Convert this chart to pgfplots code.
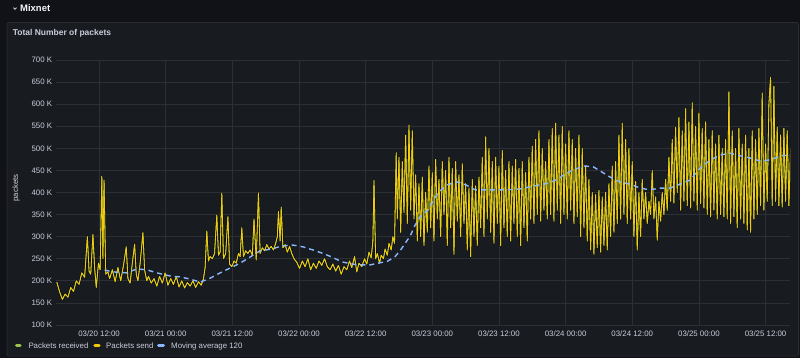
\documentclass[border=0pt]{standalone}
\usepackage{fontspec}
\setmainfont{Liberation Sans}
\usepackage{pgfplots}
\pgfplotsset{compat=1.18}
\usepackage{pgfplotstable}
\definecolor{canvas}{HTML}{111217}
\definecolor{panel}{HTML}{181B1F}
\definecolor{pborder}{HTML}{2A2D33}
\definecolor{gridc}{HTML}{2C2F35}
\definecolor{txt}{HTML}{CCCCDC}
\definecolor{sendc}{HTML}{F2CC0C}
\definecolor{recvc}{HTML}{9AC04F}
\definecolor{mac}{HTML}{8AB8FF}
\definecolor{halo}{HTML}{0B0C0E}

% Packets send (hours since 03/20 00:00, thousands of packets)
\pgfplotstableread[row sep=\\]{
h v\\
4.4 197\\4.9 175\\5.4 158\\5.9 170\\6.4 163\\6.9 185\\7.4 176\\7.9 200\\8.4 192\\8.9 218\\9.4 208\\9.9 300\\10.2 222\\10.5 215\\10.9 305\\11.2 230\\11.5 185\\11.9 240\\12.2 225\\12.5 437\\12.7 250\\12.9 428\\13.2 215\\13.6 220\\13.9 205\\14.4 225\\14.9 198\\15.4 230\\15.9 200\\16.4 235\\16.9 277\\17.2 205\\17.6 195\\17.9 230\\18.4 283\\18.7 215\\19.0 200\\19.4 240\\19.9 309\\20.2 225\\20.6 200\\20.9 210\\21.4 195\\21.9 205\\22.4 188\\22.9 210\\23.4 195\\23.9 218\\24.4 190\\24.9 205\\25.4 192\\25.9 210\\26.4 186\\26.9 200\\27.4 184\\27.9 196\\28.4 188\\28.9 200\\29.4 185\\29.9 198\\
30.4 190\\30.8 205\\31.1 230\\31.4 313\\31.7 245\\32.0 255\\32.4 250\\32.8 262\\33.2 349\\33.5 258\\33.8 265\\34.1 399\\34.4 250\\34.8 262\\35.2 345\\35.5 238\\35.9 232\\36.3 245\\36.7 240\\37.1 262\\37.4 255\\37.7 320\\38.0 255\\38.4 268\\38.8 262\\39.2 270\\39.6 258\\39.9 340\\40.3 247\\40.7 399\\41.0 262\\41.4 275\\41.8 268\\42.2 282\\42.6 272\\43.0 278\\43.4 270\\43.8 285\\44.1 300\\44.3 357\\44.6 290\\44.8 367\\45.1 275\\45.5 282\\45.9 265\\46.3 278\\46.7 262\\47.1 250\\47.6 242\\48.1 228\\48.6 245\\49.1 232\\49.6 250\\50.1 225\\50.6 240\\51.1 228\\51.6 245\\52.1 235\\52.6 250\\53.1 232\\53.6 225\\54.1 238\\54.6 222\\55.1 235\\55.6 215\\56.1 232\\56.6 225\\57.1 245\\57.5 230\\58.0 255\\58.4 220\\58.8 240\\59.3 232\\59.8 250\\60.2 238\\60.6 265\\61.0 252\\61.3 290\\61.5 427\\61.8 250\\62.1 262\\62.5 240\\62.8 258\\63.2 250\\63.5 272\\63.9 258\\64.2 285\\64.6 270\\64.9 300\\65.2 285\\65.5 490\\65.7 340\\66.0 480\\66.3 310\\66.6 470\\
66.9 355\\67.2 530\\67.5 330\\67.8 553\\68.1 360\\68.4 540\\68.7 340\\69.0 440\\69.3 290\\69.6 420\\69.9 300\\70.2 435\\70.5 280\\70.8 400\\71.1 310\\71.4 460\\71.7 320\\72.0 445\\72.3 290\\72.6 475\\72.9 340\\73.2 430\\73.5 300\\73.8 470\\74.1 350\\74.4 450\\74.7 280\\75.0 480\\75.3 320\\75.6 455\\75.9 260\\76.2 470\\76.5 335\\76.8 440\\77.1 300\\77.4 465\\77.7 330\\78.0 420\\78.3 270\\78.6 410\\78.9 255\\79.2 430\\79.5 300\\79.8 415\\80.1 280\\80.4 435\\80.7 320\\81.0 480\\81.3 300\\81.6 526\\81.9 340\\82.2 500\\82.5 310\\82.8 470\\83.1 285\\83.4 480\\83.7 330\\84.0 460\\84.3 280\\84.6 495\\84.9 320\\85.2 450\\85.5 300\\85.8 470\\86.1 290\\86.4 460\\86.7 330\\87.0 475\\87.3 300\\87.6 455\\87.9 280\\88.2 470\\88.5 320\\88.8 445\\89.1 290\\89.4 480\\89.7 340\\90.0 505\\90.3 330\\90.6 520\\90.9 350\\91.2 540\\91.5 335\\91.8 500\\92.1 360\\92.4 470\\92.7 340\\93.0 520\\93.3 350\\93.6 545\\93.9 335\\94.2 557\\94.5 360\\94.8 530\\95.1 330\\95.4 550\\95.7 350\\96.0 510\\96.3 340\\96.6 540\\96.9 360\\97.2 520\\97.5 330\\97.8 500\\98.1 345\\98.4 530\\98.7 300\\99.0 500\\99.3 320\\99.6 460\\99.9 290\\100.2 430\\100.5 270\\100.8 400\\101.1 260\\101.4 395\\101.7 275\\102.0 405\\102.3 265\\102.6 390\\102.9 280\\103.2 400\\103.5 270\\103.8 420\\104.1 300\\104.4 460\\104.7 310\\105.0 470\\105.3 330\\105.6 530\\105.9 340\\106.2 557\\106.5 350\\106.8 520\\107.1 330\\107.4 500\\107.7 340\\108.0 470\\108.3 300\\108.6 425\\108.9 270\\109.2 400\\109.5 300\\109.8 430\\110.1 340\\110.4 400\\110.7 330\\111.0 380\\111.3 350\\111.6 450\\111.9 340\\112.2 390\\112.5 292\\112.8 380\\113.1 335\\113.4 400\\113.7 350\\114.0 430\\114.3 360\\114.6 480\\114.9 380\\115.2 520\\115.5 376\\115.8 548\\116.1 400\\116.4 570\\116.7 360\\117.0 540\\117.3 380\\117.6 590\\117.9 370\\118.2 560\\118.5 365\\118.8 603\\119.1 380\\119.4 550\\119.7 360\\120.0 580\\120.3 375\\120.6 545\\120.9 365\\121.2 560\\121.5 350\\121.8 520\\122.1 345\\122.4 540\\122.7 360\\123.0 510\\123.3 340\\123.6 530\\123.9 350\\124.2 500\\124.5 345\\124.8 520\\125.1 340\\125.4 628\\125.7 330\\126.0 540\\126.3 345\\126.6 500\\126.9 320\\127.2 545\\127.5 340\\127.8 510\\128.1 330\\128.4 530\\128.7 315\\129.0 500\\129.3 310\\129.6 540\\129.9 340\\130.2 520\\130.5 350\\130.8 545\\131.1 370\\131.4 625\\131.7 360\\132.0 510\\132.3 380\\132.6 600\\132.9 661\\133.2 370\\133.5 640\\133.8 380\\134.1 548\\134.4 370\\134.7 530\\135.0 367\\135.3 545\\135.6 380\\135.9 540\\136.2 370\\136.5 500\\
}\sendtable

% Moving average 120
\pgfplotstableread[row sep=\\]{
h v\\
13.0 224\\14.8 220\\17.0 218\\18.8 227\\20.6 225\\22.4 218\\24.8 211\\26.5 209\\28.4 204\\30.2 197\\32.0 206\\33.8 218\\35.6 229\\37.4 240\\39.2 254\\41.0 268\\43.1 272\\44.9 279\\46.9 281\\48.7 277\\50.5 270\\52.1 263\\53.9 254\\55.7 243\\57.6 238\\59.3 236\\60.8 236\\62.2 240\\63.9 244\\65.3 255\\66.2 268\\67.1 285\\68.0 301\\68.9 326\\69.8 345\\71.2 360\\73.0 399\\74.6 417\\76.4 424\\78.1 417\\79.7 406\\82.4 406\\85.1 406\\87.8 408\\90.5 415\\92.9 421\\94.7 431\\95.9 442\\97.7 453\\99.5 460\\101.0 458\\102.2 449\\104.0 435\\105.8 424\\107.6 419\\109.4 410\\111.2 406\\113.0 410\\114.8 410\\116.6 419\\118.4 428\\120.2 455\\122.1 474\\123.9 485\\125.6 489\\127.5 483\\129.3 478\\131.1 471\\132.9 474\\134.7 483\\136.1 485\\
}\matable

\begin{document}
\begin{tikzpicture}
\useasboundingbox (0,0) rectangle (800bp,358bp);
\fill[canvas] (0,0) rectangle (800bp,358bp);
\filldraw[fill=panel, draw=pborder, line width=0.8bp, rounded corners=2bp] (7bp,2bp) rectangle (798.5bp,335.5bp);
% header
\draw[txt, line width=0.9bp, line cap=round, line join=round] (13.6bp,350.3bp) -- (15bp,348.6bp) -- (16.4bp,350.3bp);
\node[anchor=base west, inner sep=0, font=\bfseries\fontsize{9.5}{11}\selectfont, text=white!80!txt] at (20bp,346.3bp) {Mixnet};
\node[anchor=base west, inner sep=0, font=\bfseries\fontsize{8.5}{10}\selectfont, text=txt] at (12.7bp,322bp) {Total Number of packets};
\node[rotate=90, inner sep=0, font=\fontsize{7.9}{9}\selectfont, text=txt] at (16bp,170bp) {packets};

\begin{axis}[
  at={(56bp,33bp)}, anchor=south west,
  width=734bp, height=265bp, scale only axis,
  xmin=4.25, xmax=136.4, ymin=100, ymax=700,
  axis line style={draw=none},
  major tick length=0pt,
  xtick={12,24,36,48,60,72,84,96,108,120,132},
  xticklabels={03/20 12:00,03/21 00:00,03/21 12:00,03/22 00:00,03/22 12:00,03/23 00:00,03/23 12:00,03/24 00:00,03/24 12:00,03/25 00:00,03/25 12:00},
  ytick={100,150,200,250,300,350,400,450,500,550,600,650,700},
  yticklabels={100 K,150 K,200 K,250 K,300 K,350 K,400 K,450 K,500 K,550 K,600 K,650 K,700 K},
  grid=major, major grid style={draw=gridc, line width=0.8bp},
  tick label style={font=\fontsize{7.9}{9}\selectfont, text=txt, inner sep=0pt},
  xticklabel style={anchor=center, yshift=-9bp},
  yticklabel style={anchor=east, xshift=-3.7bp},
  clip=true,
]
\addplot[halo, line width=2.2bp, line join=round] table[x=h,y=v]{\sendtable};
\addplot[recvc, line width=0.8bp, line join=round] table[x=h,y=v]{\sendtable};
\addplot[sendc, line width=0.8bp, line join=round] table[x=h,y=v]{\sendtable};
\addplot[mac, line width=1.4bp, dash pattern=on 5bp off 4bp] table[x=h,y=v]{\matable};
\end{axis}

% legend
\draw[recvc, line width=3bp, line cap=round] (16.5bp,12.3bp) -- (20.2bp,12.3bp);
\node[anchor=base west, inner sep=0, font=\fontsize{7.9}{9}\selectfont, text=txt] at (28.3bp,9.5bp) {Packets received};
\draw[sendc, line width=3bp, line cap=round] (94.8bp,12.3bp) -- (99.2bp,12.3bp);
\node[anchor=base west, inner sep=0, font=\fontsize{7.9}{9}\selectfont, text=txt] at (106bp,9.5bp) {Packets send};
\draw[mac, line width=3bp, line cap=round] (158.5bp,12.3bp) -- (163.5bp,12.3bp);
\node[anchor=base west, inner sep=0, font=\fontsize{7.9}{9}\selectfont, text=txt] at (171bp,9.5bp) {Moving average 120};
\end{tikzpicture}
\end{document}
